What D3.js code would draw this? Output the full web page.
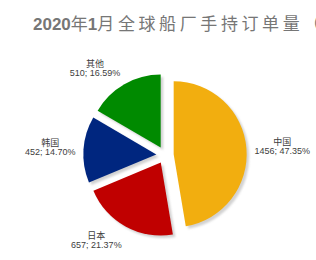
<!DOCTYPE html>
<html>
<head>
<meta charset="utf-8">
<script src="https://cdn.jsdelivr.net/npm/d3@7"></script>
<style>
  body { margin: 0; background: #fff; }
  svg { display: block; }
</style>
</head>
<body>
<svg id="chart" width="316" height="260"></svg>
<script>
// data
var names = ["中国", "日本", "韩国", "其他"];
var counts = [1456, 657, 452, 510];
var shares = ["47.35%", "21.37%", "14.70%", "16.59%"];
var colors = ["#f2ae0f", "#c00000", "#00267f", "#008a00"];

var svg = d3.select("#chart"),
    width = +svg.attr("width"),
    height = +svg.attr("height");

var cx = 165, cy = 155, radius = 73, explode = 8.7;

// title, runs off the right edge like the original
var title = svg.append("text")
    .attr("x", 33)
    .attr("y", 30)
    .attr("fill", "#767676")
    .style("font-family", "Liberation Sans, Arial, Noto Sans CJK SC, sans-serif")
    .style("font-size", "17px");
title.append("tspan").style("font-weight", "bold").text("2020");
title.append("tspan").text("年");
title.append("tspan").style("font-weight", "bold").text("1");
title.append("tspan").style("letter-spacing", "3.6px").text("月全球船厂手持订单量（艘）");

var defs = svg.append("defs");
defs.append("filter")
    .attr("id", "soft")
    .attr("x", "-20%").attr("y", "-20%")
    .attr("width", "140%").attr("height", "140%")
  .append("feGaussianBlur")
    .attr("stdDeviation", 0.8);

var rows = names.map(function(n, i) {
  return {name: n, count: counts[i], share: shares[i], color: colors[i]};
});

var pie = d3.pie()
    .sort(null)
    .value(function(d) { return d.count; });

var arc = d3.arc()
    .innerRadius(0)
    .outerRadius(radius);

var slices = pie(rows);

function mid(d) { return (d.startAngle + d.endAngle) / 2; }

function shift(d) {
  var a = mid(d);
  return [Math.sin(a) * explode, -Math.cos(a) * explode];
}

var g = svg.append("g")
    .attr("transform", "translate(" + cx + "," + cy + ")");

g.append("g")
  .selectAll("path")
  .data(slices)
  .enter().append("path")
    .attr("d", arc)
    .attr("fill", "#d2d2d2")
    .attr("filter", "url(#soft)")
    .attr("transform", function(d) {
      var s = shift(d);
      return "translate(" + (s[0] + 2.5) + "," + (s[1] + 2.5) + ")";
    });

g.append("g")
  .selectAll("path")
  .data(slices)
  .enter().append("path")
    .attr("d", arc)
    .attr("fill", function(d) { return d.data.color; })
    .attr("transform", function(d) {
      var s = shift(d);
      return "translate(" + s[0] + "," + s[1] + ")";
    });

// labels sit just outside the end of each slice
var boxH = 18, gap = 8;
var label = g.append("g")
  .selectAll("text")
  .data(slices)
  .enter().append("text")
    .attr("text-anchor", "middle")
    .attr("fill", "#404040")
    .style("font-family", "Liberation Sans, Arial, Noto Sans CJK SC, sans-serif")
    .style("font-size", "9px");

label.append("tspan")
    .attr("x", 0)
    .attr("y", -2)
    .text(function(d) { return d.data.name; });
label.append("tspan")
    .attr("x", 0)
    .attr("y", 7)
    .text(function(d) { return d.data.count + "; " + d.data.share; });

label.attr("transform", function(d) {
  var w = this.getBBox().width;
  var a = mid(d);
  var dx = Math.sin(a), dy = -Math.cos(a);
  var px = dx * (radius + explode), py = dy * (radius + explode);
  var lx = px + dx * gap + (dx < 0 ? -1 : 1) * w / 2;
  var ly = py + dy * (gap + boxH / 2);
  return "translate(" + lx + "," + ly + ")";
});
</script>
</body>
</html>
